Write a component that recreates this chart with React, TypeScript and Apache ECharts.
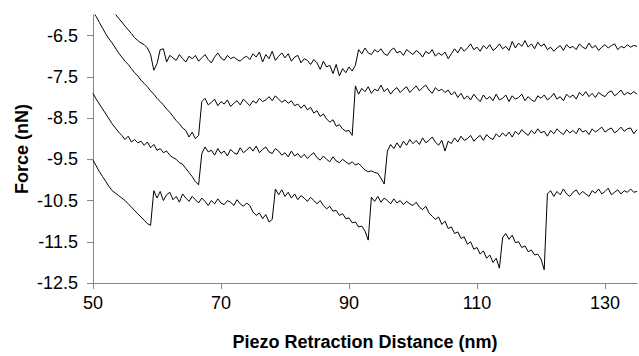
import React, { useEffect, useRef } from "react";
import * as echarts from "echarts";

// Sampling grid of the retraction distance (nm)
const X_START = 50;
const X_STEP = 0.5;

// Force curves (nN), one value per 0.5 nm from 50 to 135 nm (10 values = 5 nm per row)
const curveA = [
  -5.3, -5.4, -5.5, -5.6, -5.7, -5.8, -5.88, -5.98, -6.08, -6.17,
  -6.27, -6.36, -6.45, -6.55, -6.62, -6.68, -6.72, -6.8, -6.96, -7.34,
  -7.18, -6.84, -6.82, -7.14, -6.98, -7.04, -7.1, -6.96, -7.06, -7.14,
  -7.0, -7.06, -6.98, -7.12, -7.04, -6.96, -7.08, -7.16, -7.02, -6.92,
  -7.04, -7.1, -6.98, -7.06, -7.02, -7.08, -7.12, -7.04, -7.0, -7.08,
  -6.94, -7.02, -6.9, -7.14, -6.96, -7.06, -6.88, -7.1, -7.0, -6.92,
  -7.04, -6.94, -7.12, -7.02, -6.98, -7.16, -7.06, -7.1, -7.2, -7.08,
  -7.16, -7.32, -7.12, -7.26, -7.22, -7.42, -7.2, -7.48, -7.3, -7.4,
  -7.26, -7.36, -7.22, -6.84, -6.94, -6.8, -6.92, -6.96, -6.84, -6.9,
  -6.82, -6.94, -6.98, -6.86, -6.8, -6.92, -6.88, -6.98, -6.84, -6.9,
  -6.96, -6.86, -6.92, -7.02, -6.88, -6.94, -6.84, -7.0, -6.92, -6.98,
  -6.9, -7.06, -6.94, -6.82, -6.92, -6.78, -6.88, -6.8, -6.7, -6.84,
  -6.78, -6.88, -6.74, -6.82, -6.72, -6.86, -6.8, -6.7, -6.82, -6.76,
  -6.86, -6.64, -6.8, -6.68, -6.76, -6.62, -6.78, -6.7, -6.82, -6.66,
  -6.76, -6.7, -6.84, -6.78, -6.88, -6.8, -6.74, -6.86, -6.72, -6.8,
  -6.76, -6.84, -6.7, -6.78, -6.82, -6.68, -6.8, -6.74, -6.86, -6.78,
  -6.72, -6.8, -6.74, -6.7, -6.84, -6.76, -6.8, -6.72, -6.78, -6.74,
  -6.76,
];

const curveB = [
  -5.92, -6.04, -6.18, -6.32, -6.46, -6.58, -6.68, -6.8, -6.92, -7.02,
  -7.12, -7.2, -7.3, -7.4, -7.48, -7.58, -7.66, -7.74, -7.84, -7.92,
  -8.02, -8.1, -8.18, -8.28, -8.36, -8.46, -8.56, -8.64, -8.74, -8.8,
  -8.96, -8.84, -9.0, -8.92, -8.1, -8.02, -8.18, -8.12, -8.04, -8.2,
  -8.1, -8.16, -8.06, -8.22, -8.14, -8.08, -8.18, -8.04, -8.12, -8.2,
  -8.08, -8.14, -8.02, -8.1, -8.06, -7.98, -8.08, -7.96, -8.04, -8.12,
  -8.06, -8.14, -8.08, -8.2, -8.16, -8.26, -8.18, -8.3, -8.24, -8.38,
  -8.32, -8.46, -8.4, -8.52, -8.6, -8.54, -8.7, -8.66, -8.76, -8.82,
  -8.8, -8.92, -7.72, -7.92, -7.78, -7.86, -7.74, -7.9, -7.8, -7.84,
  -7.7, -7.86, -7.78, -7.92, -7.82, -7.76, -7.88, -7.8, -7.74, -7.88,
  -7.8, -7.72, -7.84, -7.76, -7.7, -7.82, -7.9, -7.76, -7.84, -7.8,
  -7.88, -7.82, -7.94, -7.86, -8.0, -7.9, -8.04, -7.96, -8.06, -7.92,
  -8.02, -8.1, -7.94, -8.04, -7.98, -8.08, -7.92, -8.06, -8.02, -7.94,
  -8.1, -7.96, -8.04, -8.0, -7.92, -8.08, -7.98, -8.06, -8.1, -7.96,
  -8.02, -7.94, -8.06, -8.0, -7.9, -8.04, -7.98, -8.08, -7.92, -8.0,
  -7.94, -8.04, -7.88, -7.96, -7.86, -7.98, -7.9, -8.0, -7.88, -7.94,
  -7.98, -7.88, -7.84, -7.96, -7.9, -7.82, -7.94, -7.88, -7.92, -7.86,
  -7.92,
];

const curveC = [
  -7.9, -8.04, -8.16, -8.28, -8.4, -8.52, -8.64, -8.74, -8.84, -8.92,
  -9.02, -8.94, -9.08, -9.02, -9.1, -9.06, -9.16, -9.08, -9.22, -9.14,
  -9.28, -9.24, -9.34, -9.3, -9.4, -9.46, -9.5, -9.58, -9.62, -9.72,
  -9.82, -9.92, -10.04, -10.12, -9.36, -9.2, -9.32, -9.28, -9.4, -9.24,
  -9.36, -9.3, -9.42, -9.26, -9.34, -9.38, -9.22, -9.34, -9.28, -9.2,
  -9.3, -9.18, -9.34, -9.26, -9.2, -9.32, -9.36, -9.24, -9.3, -9.4,
  -9.34, -9.44, -9.3, -9.42, -9.36, -9.46, -9.38, -9.48, -9.4, -9.34,
  -9.46, -9.52, -9.42, -9.5, -9.56, -9.44, -9.54, -9.58, -9.5, -9.56,
  -9.62, -9.56, -9.64, -9.6, -9.68, -9.76, -9.8, -9.78, -9.82, -9.84,
  -9.96, -10.1, -9.3, -9.14, -9.24, -9.1, -9.22, -9.06, -9.16, -9.02,
  -9.12, -9.04, -9.14, -8.98, -9.1, -9.04, -8.96, -9.08, -9.16, -9.04,
  -9.3, -9.06, -9.12, -8.98, -9.08, -8.94, -9.04, -9.0, -8.92, -9.06,
  -8.98, -8.92, -9.04, -8.9, -8.98, -9.02, -8.88, -8.96, -8.86, -8.94,
  -8.84, -8.96, -8.82, -8.9, -8.78, -8.86, -8.92, -8.8, -8.88, -8.76,
  -8.86, -8.82, -8.94, -8.8, -8.88, -8.76, -8.84, -8.9, -8.78, -8.86,
  -8.8, -8.88, -8.74, -8.84, -8.8, -8.9, -8.76, -8.84, -8.78, -8.72,
  -8.84, -8.78, -8.74, -8.86, -8.8, -8.72, -8.82, -8.76, -8.74, -8.88,
  -8.78,
];

const curveD = [
  -9.52, -9.66, -9.8, -9.92, -10.04, -10.16, -10.26, -10.32, -10.38, -10.44,
  -10.5, -10.58, -10.66, -10.74, -10.82, -10.9, -10.98, -11.06, -11.1, -10.26,
  -10.44, -10.28, -10.5, -10.36, -10.3, -10.48, -10.4, -10.54, -10.34, -10.44,
  -10.52, -10.4, -10.48, -10.56, -10.44, -10.52, -10.62, -10.5, -10.58, -10.46,
  -10.56, -10.6, -10.5, -10.54, -10.62, -10.48, -10.58, -10.64, -10.56, -10.62,
  -10.78, -10.86, -10.8, -10.94, -10.84, -11.02, -10.96, -10.22, -10.36, -10.24,
  -10.4, -10.3, -10.44, -10.34, -10.48, -10.38, -10.44, -10.52, -10.42, -10.5,
  -10.58, -10.5, -10.62, -10.7, -10.64, -10.76, -10.74, -10.86, -10.82, -10.94,
  -10.92, -11.04, -11.02, -11.14, -11.12, -11.24, -11.46, -10.42, -10.52, -10.4,
  -10.54, -10.44, -10.5, -10.58, -10.46, -10.56, -10.5, -10.6, -10.52, -10.58,
  -10.62, -10.54, -10.66, -10.72, -10.64, -10.8, -10.88, -10.96, -10.9, -11.08,
  -11.0, -11.18, -11.14, -11.3, -11.26, -11.42, -11.38, -11.56, -11.5, -11.68,
  -11.64, -11.8, -11.72, -11.9, -11.82, -12.0, -11.9, -12.14, -11.4, -11.3,
  -11.44, -11.34, -11.52, -11.5, -11.64, -11.6, -11.74, -11.7, -11.82, -11.8,
  -11.92, -12.18, -10.34, -10.26, -10.4, -10.28, -10.36, -10.22, -10.34, -10.4,
  -10.3, -10.24, -10.36, -10.28, -10.34, -10.4, -10.26, -10.32, -10.22, -10.34,
  -10.28, -10.2, -10.36, -10.3, -10.24, -10.34, -10.26, -10.3, -10.22, -10.3,
  -10.28,
];

const xTicks = [50, 70, 90, 110, 130];
const yTicks = [-12.5, -11.5, -10.5, -9.5, -8.5, -7.5, -6.5];

const FONT = "'Liberation Sans', Arial, sans-serif";
const AXIS_GRAY = "#868686";

const toPairs = (ys: number[]) =>
  ys.map((y, i) => [X_START + i * X_STEP, y]);

export default function App() {
  const ref = useRef<HTMLDivElement>(null);

  useEffect(() => {
    if (!ref.current) return;
    const chart = echarts.init(ref.current, null, { renderer: "svg" });
    const lineSeries = (name: string, ys: number[]) => ({
      name,
      type: "line",
      data: toPairs(ys),
      showSymbol: false,
      symbol: "none",
      clip: true,
      lineStyle: { color: "#000", width: 1 },
      silent: true,
    });
    chart.setOption({
      animation: false,
      backgroundColor: "#fff",
      grid: { left: 93, right: 2, top: 15, bottom: 68, containLabel: false },
      xAxis: {
        type: "value",
        min: 50,
        max: 135,
        name: "Piezo Retraction Distance (nm)",
        nameLocation: "middle",
        nameGap: 50,
        nameMoveOverlap: false,
        nameTextStyle: {
          fontFamily: FONT,
          fontSize: 18,
          fontWeight: "bold",
          color: "#000",
        },
        axisLine: { show: true, lineStyle: { color: AXIS_GRAY, width: 1 } },
        axisTick: {
          show: true,
          inside: false,
          length: 6,
          customValues: xTicks,
          lineStyle: { color: AXIS_GRAY },
        },
        axisLabel: {
          customValues: xTicks,
          margin: 11,
          fontFamily: FONT,
          fontSize: 18,
          color: "#000",
        },
        splitLine: { show: false },
      },
      yAxis: {
        type: "value",
        min: -12.5,
        max: -6,
        name: "Force (nN)",
        nameLocation: "middle",
        nameGap: 62,
        nameRotate: 90,
        nameMoveOverlap: false,
        nameTextStyle: {
          fontFamily: FONT,
          fontSize: 18,
          fontWeight: "bold",
          color: "#000",
        },
        axisLine: { show: true, lineStyle: { color: AXIS_GRAY, width: 1 } },
        axisTick: {
          show: true,
          inside: false,
          length: 6,
          customValues: yTicks,
          lineStyle: { color: AXIS_GRAY },
        },
        axisLabel: {
          customValues: yTicks,
          margin: 15,
          fontFamily: FONT,
          fontSize: 18,
          color: "#000",
          formatter: (v: number) => v.toFixed(1),
        },
        splitLine: { show: false },
      },
      series: [
        lineSeries("A", curveA),
        lineSeries("B", curveB),
        lineSeries("C", curveC),
        lineSeries("D", curveD),
      ],
    });
    return () => chart.dispose();
  }, []);

  return (
    <div
      ref={ref}
      style={{
        position: "fixed",
        left: 0,
        top: 0,
        width: 639,
        height: 356,
        background: "#fff",
      }}
    />
  );
}
